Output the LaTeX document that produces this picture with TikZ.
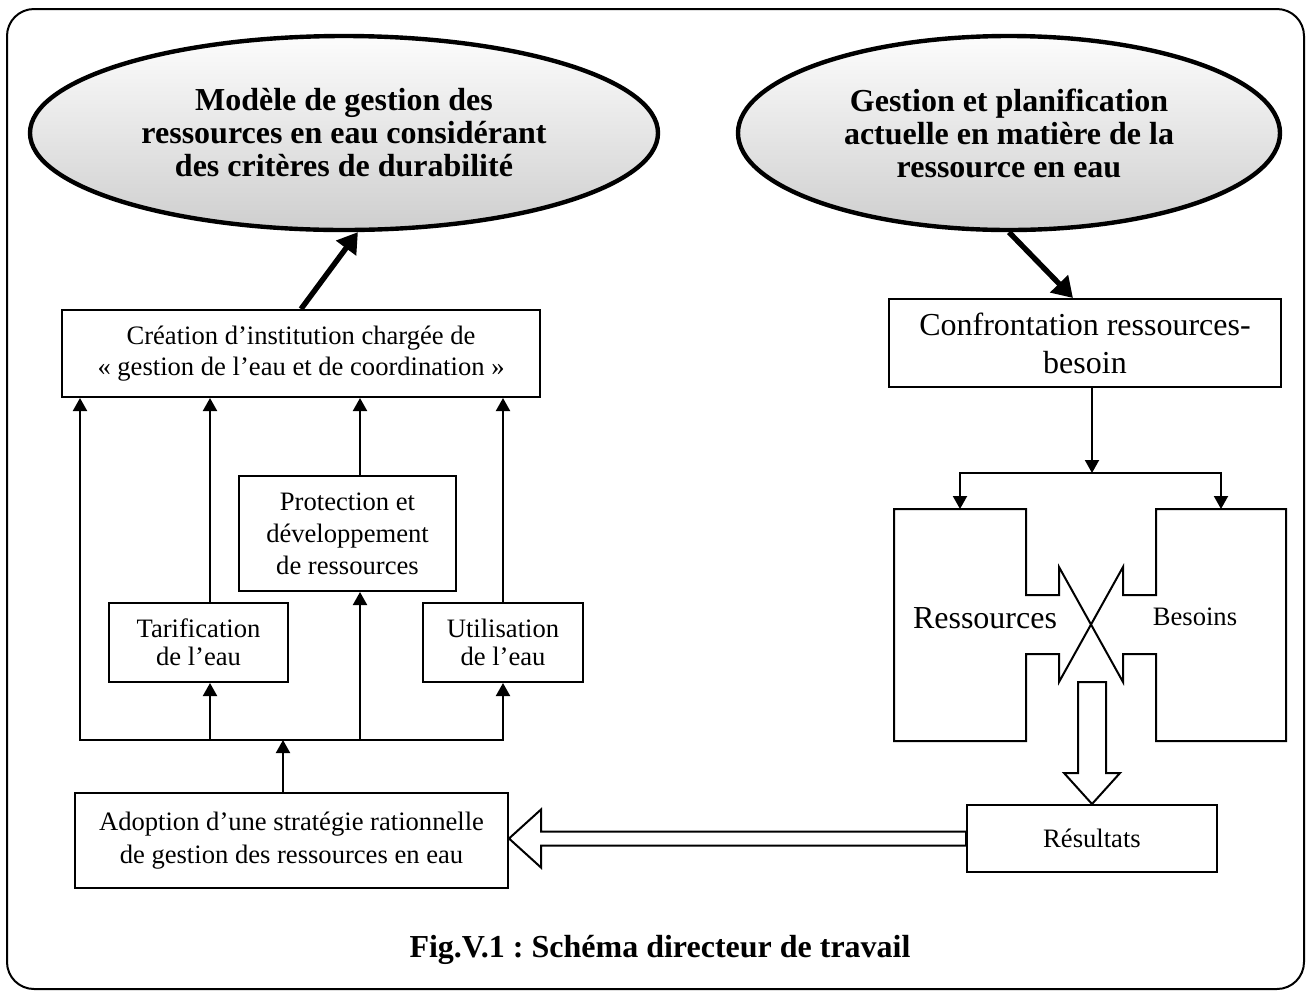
\documentclass[tikz,border=0pt]{standalone}
\usepackage{fontspec}
\setmainfont{Liberation Serif}
\usetikzlibrary{shapes.geometric,arrows.meta,calc}
\frenchspacing

\begin{document}
\begin{tikzpicture}[x=0.5pt,y=-0.5pt,
		bulle/.style={ellipse,draw,line width=2.2pt,top color=gray!2,bottom color=gray!38,align=center,inner sep=0pt,font=\fontsize{16}{16.5}\selectfont\bfseries},
		boite/.style={draw,line width=1pt,align=center,inner sep=0pt,font=\fontsize{13.3}{15.5}\selectfont},
		fleche/.style={line width=1pt,line cap=rect,-{Triangle[width=7pt,length=6.5pt]}},
		grosse/.style={line width=2.7pt,-{Triangle[width=12pt,length=10pt]}},
		creux/.style={line width=1pt,fill=white,line join=miter}]
		\useasboundingbox (0,0) rectangle (1307,992);
		\draw[line width=1pt,rounded corners=13.5pt] (7,9) rectangle (1304,989);
		\node[bulle,minimum width=314pt,minimum height=97pt] (modele) at (344,133) {Modèle de gestion des\\ressources en eau considérant\\des critères de durabilité};
		\node[bulle,minimum width=271pt,minimum height=97pt] (actuel) at (1009,133) {Gestion et planification\\actuelle en matière de la\\ressource en eau};
		\node[boite,minimum width=239pt,minimum height=43.5pt] (creation) at (301,353.5) {Création d’institution chargée de\\«~gestion de l’eau et de coordination~»};
		\node[boite,minimum width=108.5pt,minimum height=57.5pt,font=\fontsize{13.3}{16}\selectfont] (protection) at (347.5,533.5) {Protection et\\développement\\de ressources};
		\node[boite,minimum width=89.5pt,minimum height=39.5pt,font=\fontsize{13.3}{14}\selectfont] (tarif) at (198.5,642.5) {Tarification\\de l’eau};
		\node[boite,minimum width=80pt,minimum height=39.5pt,font=\fontsize{13.3}{14}\selectfont] (utilis) at (503,642.5) {Utilisation\\de l’eau};
		\node[boite,minimum width=216.5pt,minimum height=47.5pt,font=\fontsize{13.3}{16.5}\selectfont] (adoption) at (291.5,840.5) {Adoption d’une stratégie rationnelle\\de gestion des ressources en eau};
		\draw[grosse] (creation.north) -- (modele.-82);
		\coordinate (b0) at (283,740);
		\coordinate (b1) at (80,740);
		\coordinate (b2) at (210,740);
		\coordinate (b3) at (360,740);
		\coordinate (b4) at (503,740);
		\draw[fleche] (b4) -- (b1) -- (b1 |- creation.south);
		\draw[fleche] (b4) -- (utilis.south);
		\draw[fleche] (utilis.north) -- (utilis.north |- creation.south);
		\draw[fleche] (b2) -- (b2 |- tarif.south);
		\draw[fleche] (b2 |- tarif.north) -- (b2 |- creation.south);
		\draw[fleche] (b3) -- (b3 |- protection.south);
		\draw[fleche] (b3 |- protection.north) -- (b3 |- creation.south);
		\draw[fleche] (b0 |- adoption.north) -- (b0);
		\node[boite,minimum width=196pt,minimum height=44pt,font=\fontsize{16}{19}\selectfont] (confront) at (1085,343) {Confrontation ressources-\\besoin};
		\draw[grosse] (actuel.south) -- (confront.105);
		\coordinate (partage) at (1092,473);
		\coordinate (gauche) at (960,473);
		\coordinate (droite) at (1221,473);
		\coordinate (haut) at (0,509);
		\draw[fleche] (partage |- confront.south) -- (partage);
		\draw[fleche] (partage) -- (gauche) -- (gauche |- haut);
		\draw[fleche] (partage) -- (droite) -- (droite |- haut);
		\draw[line width=1pt] (894,509) -- (1026,509) -- (1026,595) -- (1059,595) -- (1059,567) -- (1123,682) -- (1123,654) -- (1156,654) -- (1156,741) -- (1286,741) -- (1286,509) -- (1156,509) -- (1156,595) -- (1123,595) -- (1123,567) -- (1059,682) -- (1059,654) -- (1026,654) -- (1026,741) -- (894,741) -- cycle;
		\node[font=\fontsize{16}{19}\selectfont] (ress) at (985,618) {Ressources};
		\node[font=\fontsize{13.3}{15}\selectfont] (besoins) at (1195,617) {Besoins};
		\node[boite,minimum width=125pt,minimum height=33.5pt] (resultats) at (1092,838.5) {Résultats};
		\coordinate (gorge) at (1092,682);
		\draw[creux] (resultats.north) -- ++(-28,-31) -- ++(14,0) -- ($(gorge)+(-14,0)$) -- ($(gorge)+(14,0)$) -- ($(resultats.north)+(14,-31)$) -- ++(14,0) -- cycle;
		\coordinate (pointe) at (adoption.east |- resultats.west);
		\draw[creux] (pointe) -- ++(32,-29) -- ++(0,22) -- ($(resultats.west)+(0,-7)$) -- ($(resultats.west)+(0,7)$) -- ($(pointe)+(32,7)$) -- ++(0,22) -- cycle;
		\node[font=\fontsize{16}{19}\selectfont\bfseries] (legende) at (660,950) {Fig.V.1 : Schéma directeur de travail};
	\end{tikzpicture}
\end{document}
